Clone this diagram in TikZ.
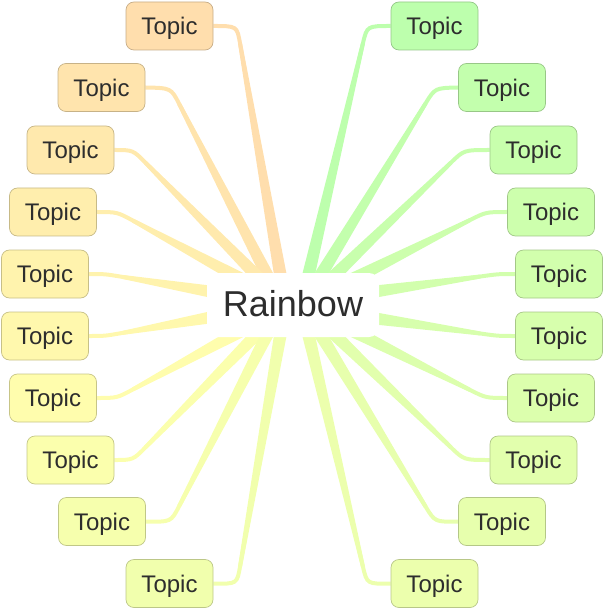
\documentclass[tikz,border=0pt]{standalone}
\usepackage{fontspec}
\setmainfont{Liberation Sans}
\usetikzlibrary{calc,backgrounds}
\definecolor{textgray}{RGB}{45,45,45}
\definecolor{c0}{RGB}{255,222,173}
\definecolor{c1}{RGB}{255,228,173}
\definecolor{c2}{RGB}{255,233,173}
\definecolor{c3}{RGB}{255,238,173}
\definecolor{c4}{RGB}{255,243,173}
\definecolor{c5}{RGB}{255,248,173}
\definecolor{c6}{RGB}{255,253,173}
\definecolor{c7}{RGB}{251,255,173}
\definecolor{c8}{RGB}{246,255,173}
\definecolor{c9}{RGB}{241,255,173}
\definecolor{c10}{RGB}{236,255,173}
\definecolor{c11}{RGB}{231,255,173}
\definecolor{c12}{RGB}{226,255,173}
\definecolor{c13}{RGB}{220,255,173}
\definecolor{c14}{RGB}{215,255,173}
\definecolor{c15}{RGB}{210,255,173}
\definecolor{c16}{RGB}{205,255,173}
\definecolor{c17}{RGB}{200,255,173}
\definecolor{c18}{RGB}{195,255,173}
\definecolor{c19}{RGB}{189,255,173}
\tikzset{
  topic/.style={draw=#1!78!black, fill=#1, rounded corners=8pt,
    minimum width=87pt, minimum height=48pt, inner sep=0pt, line width=0.7pt,
    text=textgray, text depth=0pt, font=\fontsize{24}{24}\selectfont},
  rootbox/.style={fill=white, rounded corners=10pt, minimum width=172pt,
    minimum height=64pt, inner sep=0pt, text=textgray, text depth=3pt,
    font=\fontsize{36}{38}\selectfont},
}
% #1 node name, #2 anchor, #3 corner point, #4 point on root box edge, #5 colour
\newcommand\branchto[5]{%
  \coordinate (#1k) at (#3);
  \coordinate (#1h) at (#4);
  \coordinate (#1s) at ($(#1k)!18pt!(#1h)$);
  \coordinate (#1r) at ($(#1h)!-15pt!(#1k)$);
  \draw[#5, line width=4pt] (#1.#2) .. controls (#1k) .. (#1s) -- (#1r);
  \fill[#5] ($(#1s)!2pt!90:(#1r)$) -- ($(#1r)!6.5pt!-90:(#1s)$)
    -- ($(#1r)!6.5pt!90:(#1s)$) -- ($(#1s)!2pt!-90:(#1r)$) -- cycle;
}
\begin{document}
\begin{tikzpicture}[x=1pt,y=-1pt]
\useasboundingbox (0,0) rectangle (603,609);
\node[rootbox] (root) at (293,305) {Rainbow};
% left
\node[topic=c0] (L1) at (169.5,26) {Topic};
\node[topic=c1] (L2) at (101.5,87.5) {Topic};
\node[topic=c2] (L3) at (70.5,150) {Topic};
\node[topic=c3] (L4) at (53,212) {Topic};
\node[topic=c4] (L5) at (45,274) {Topic};
\node[topic=c5] (L6) at (45,336) {Topic};
\node[topic=c6] (L7) at (53,398) {Topic};
\node[topic=c7] (L8) at (70.5,460) {Topic};
\node[topic=c8] (L9) at (102,521.5) {Topic};
\node[topic=c9] (L10) at (169.5,583.5) {Topic};
% right
\node[topic=c19] (R1) at (434.5,26) {Topic};
\node[topic=c18] (R2) at (502,87.5) {Topic};
\node[topic=c17] (R3) at (533.5,150) {Topic};
\node[topic=c16] (R4) at (551,212) {Topic};
\node[topic=c15] (R5) at (559,274) {Topic};
\node[topic=c14] (R6) at (559,336) {Topic};
\node[topic=c13] (R7) at (551,398) {Topic};
\node[topic=c12] (R8) at (533.5,460) {Topic};
\node[topic=c11] (R9) at (502,521.5) {Topic};
\node[topic=c10] (R10) at (434.5,583.5) {Topic};
\begin{scope}[on background layer]
\branchto{L1}{east}{237,26}{280,273}{c0}
\branchto{L2}{east}{171,88}{266,273}{c1}
\branchto{L3}{east}{133,150}{254,273}{c2}
\branchto{L4}{east}{117,212}{230,273}{c3}
\branchto{L5}{east}{105,274}{207,291}{c4}
\branchto{L6}{east}{105,336}{207,318}{c5}
\branchto{L7}{east}{117,398}{230,337}{c6}
\branchto{L8}{east}{133,460}{254,337}{c7}
\branchto{L9}{east}{171,522}{266,337}{c8}
\branchto{L10}{east}{237,584}{280,337}{c9}
\branchto{R1}{west}{367,26}{309,273}{c19}
\branchto{R2}{west}{435,88}{322,273}{c18}
\branchto{R3}{west}{464,150}{337,273}{c17}
\branchto{R4}{west}{486,212}{365,273}{c16}
\branchto{R5}{west}{498,274}{379,291}{c15}
\branchto{R6}{west}{498,336}{379,319}{c14}
\branchto{R7}{west}{486,398}{365,337}{c13}
\branchto{R8}{west}{464,460}{337,337}{c12}
\branchto{R9}{west}{435,522}{322,337}{c11}
\branchto{R10}{west}{367,584}{309,337}{c10}
\end{scope}
\end{tikzpicture}
\end{document}
